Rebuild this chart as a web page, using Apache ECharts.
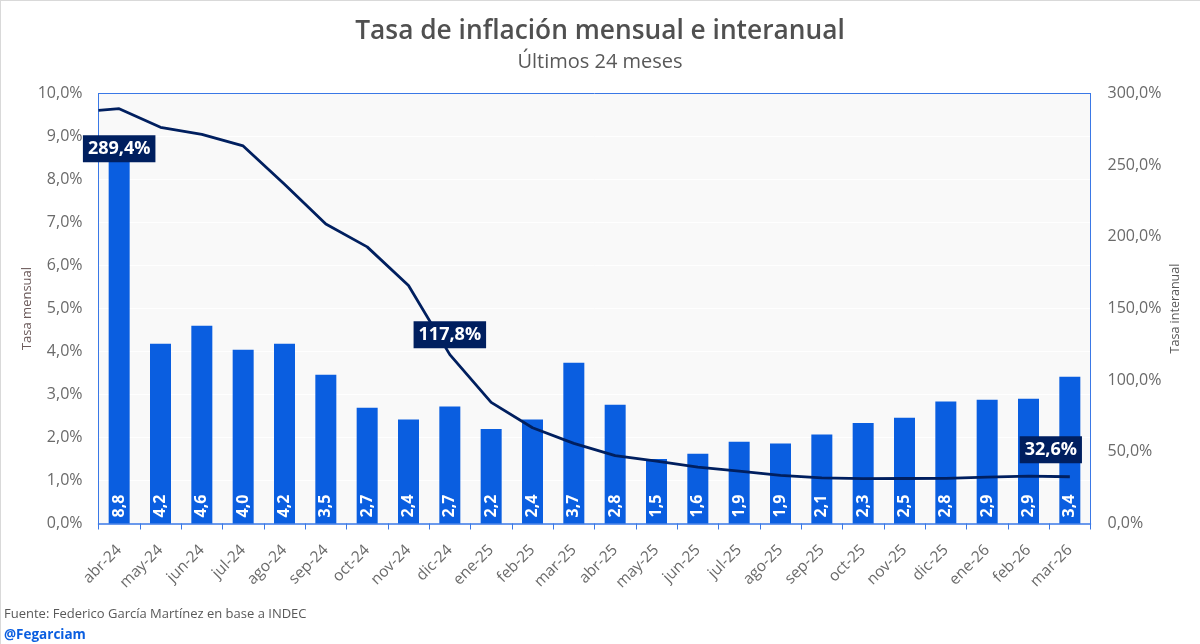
<!DOCTYPE html>
<html>
<head>
<meta charset="utf-8">
<title>Tasa de inflación mensual e interanual</title>
<script src="https://cdn.jsdelivr.net/npm/echarts@6/dist/echarts.min.js"></script>
<style>
  html, body { margin: 0; padding: 0; background: #fff; }
  #chart { width: 1200px; height: 644px; }
  /* thin grey frame on the top and left of the screenshot */
  body::after {
    content: '';
    position: absolute;
    top: 0; left: 0;
    width: 1200px; height: 644px;
    box-sizing: border-box;
    border-top: 1px solid #d9d9d9;
    border-left: 1px solid #d9d9d9;
    pointer-events: none;
  }
</style>
</head>
<body>
<div id="chart"></div>
<script>
const months = ['abr-24', 'may-24', 'jun-24', 'jul-24', 'ago-24', 'sep-24', 'oct-24', 'nov-24', 'dic-24',
  'ene-25', 'feb-25', 'mar-25', 'abr-25', 'may-25', 'jun-25', 'jul-25', 'ago-25', 'sep-25', 'oct-25',
  'nov-25', 'dic-25', 'ene-26', 'feb-26', 'mar-26'];
const monthly = [8.8, 4.18, 4.6, 4.04, 4.18, 3.46, 2.69, 2.42, 2.72, 2.2, 2.42, 3.74, 2.76, 1.5, 1.62, 1.9,
  1.86, 2.07, 2.34, 2.46, 2.84, 2.88, 2.9, 3.41];
const annual = [289.4, 276.4, 271.5, 263.4, 236.7, 209.0, 193.0, 166.0, 117.8, 84.5, 66.8, 55.9, 47.3, 43.5,
  39.4, 36.6, 33.6, 31.8, 31.3, 31.4, 31.5, 32.4, 33.1, 32.6];
// the line comes in from the left edge of the plot, the month before the window
const annualBefore = 288.2;
// which points of the line carry a box, and how far the box sits from the point
const boxed = { 0: [0, 40], 8: [0, -20], 23: [-19, -27] };

const navy = '#001f5f';
const blue = '#0a5ee0';
const edge = '#3a78e6';
const grey = '#6a6a6a';
const font = '"Open Sans", "Noto Sans", sans-serif';

const comma = (v, d) => v.toFixed(d).replace('.', ',');

const lineData = annual.map((v, i) => {
  const item = { value: [i, v] };
  if (boxed[i]) {
    item.label = {
      show: true,
      position: 'inside',
      offset: boxed[i],
      formatter: comma(v, 1) + '%'
    };
  }
  return item;
});
lineData.unshift({ value: [-0.5, annualBefore] });

const chart = echarts.init(document.getElementById('chart'), null, { renderer: 'canvas' });

chart.setOption({
  animation: false,
  backgroundColor: '#fff',
  textStyle: { fontFamily: font },
  title: [
    {
      text: 'Tasa de inflación mensual e interanual',
      left: 'center', top: 19, padding: 0,
      textStyle: { fontSize: 26.3, fontWeight: 600, color: '#505050', fontFamily: font }
    },
    {
      text: 'Últimos 24 meses',
      left: 'center', top: 52, padding: 0,
      textStyle: { fontSize: 20, fontWeight: 'normal', color: '#595959', fontFamily: font }
    },
    {
      text: 'Fuente: Federico García Martínez en base a INDEC',
      left: 4, top: 608, padding: 0,
      textStyle: { fontSize: 13, fontWeight: 'normal', color: '#595959', fontFamily: font }
    },
    {
      text: '@Fegarciam',
      left: 4, top: 628, padding: 0,
      textStyle: { fontSize: 13.5, fontWeight: 'bold', color: blue, fontFamily: font }
    }
  ],
  grid: {
    left: 98.5, right: 109.5, top: 93.5, bottom: 120.5,
    show: true,
    backgroundColor: '#f9f9f9',
    borderWidth: 0
  },
  xAxis: [
    {
      type: 'category',
      data: months,
      axisLine: { lineStyle: { color: edge, width: 1.5 } },
      axisTick: { show: true, length: 6, alignWithLabel: false, lineStyle: { color: edge } },
      axisLabel: { rotate: 45, interval: 0, fontSize: 15.5, color: grey, margin: 24, fontFamily: font }
    },
    {
      // carries the line, and draws the top edge of the plot
      type: 'value',
      min: -0.5, max: 23.5,
      position: 'top',
      axisLine: { show: true, onZero: false, lineStyle: { color: edge, width: 1 } },
      axisTick: { show: false },
      axisLabel: { show: false },
      splitLine: { show: false }
    }
  ],
  yAxis: [
    {
      type: 'value',
      min: 0, max: 10, interval: 1,
      name: 'Tasa mensual',
      nameLocation: 'middle',
      nameGap: 65,
      nameMoveOverlap: false,
      nameTextStyle: { fontSize: 13, color: '#6b5a5a', fontFamily: font },
      axisLine: { show: true, onZero: false, lineStyle: { color: edge, width: 1 } },
      axisTick: { show: false },
      axisLabel: { formatter: v => comma(v, 1) + '%', fontSize: 16, color: grey, margin: 16, padding: [2, 0, 0, 0], fontFamily: font },
      splitLine: { show: true, lineStyle: { color: '#ffffff', width: 1 } }
    },
    {
      type: 'value',
      min: 0, max: 300, interval: 50,
      name: 'Tasa interanual',
      nameLocation: 'middle',
      nameGap: 78,
      nameMoveOverlap: false,
      nameTextStyle: { fontSize: 12.5, color: '#595959', fontFamily: font },
      axisLine: { show: true, onZero: false, lineStyle: { color: edge, width: 1 } },
      axisTick: { show: false },
      axisLabel: { formatter: v => comma(v, 1) + '%', fontSize: 16, color: grey, margin: 17, padding: [2, 0, 0, 0], fontFamily: font },
      splitLine: { show: false }
    }
  ],
  series: [
    {
      type: 'bar',
      data: monthly,
      barWidth: 21,
      itemStyle: { color: blue },
      label: {
        show: true,
        position: 'insideBottom',
        rotate: 90,
        align: 'left',
        verticalAlign: 'middle',
        distance: 6,
        color: '#fff',
        fontSize: 16,
        fontWeight: 'bold',
        fontFamily: font,
        formatter: p => comma(p.value, 1)
      }
    },
    {
      type: 'line',
      xAxisIndex: 1,
      yAxisIndex: 1,
      data: lineData,
      symbol: 'circle',
      symbolSize: 0,
      showSymbol: true,
      showAllSymbol: true,
      smooth: false,
      lineStyle: { color: navy, width: 2.8 },
      itemStyle: { color: navy },
      z: 5,
      label: {
        show: false,
        backgroundColor: navy,
        color: '#fff',
        fontSize: 18,
        fontWeight: 'bold',
        fontFamily: font,
        padding: [5, 5, 4, 5]
      },
      emphasis: { disabled: true }
    }
  ]
});
</script>
</body>
</html>
